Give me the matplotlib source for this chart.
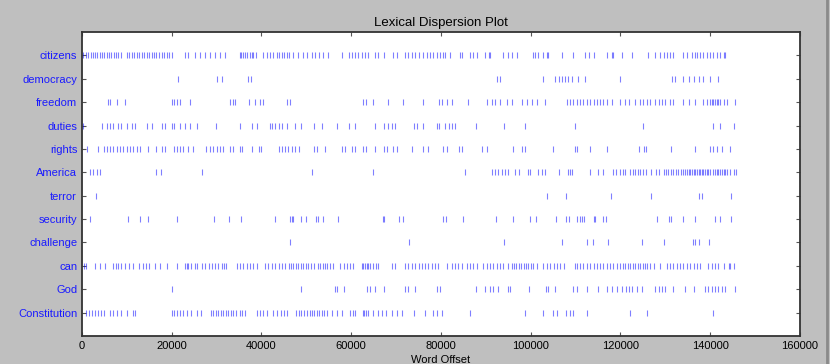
import matplotlib.pyplot as plt
import matplotlib.lines as mlines

# word offsets (approximate)
citizens = [300, 800, 1300, 1900, 2400, 2900, 3400, 3900, 4500, 5000, 5500, 6000, 6500, 7100, 7600, 8100, 8600,
            10000, 10500, 11100, 11600, 12200, 12700, 13300, 13800, 14400, 14900, 15500, 16000, 16600, 17200,
            17800, 18300, 18900, 19400, 20000, 23000, 23700, 25200, 26300, 27400, 28500, 29600, 30800, 31900,
            35100, 35400, 35800, 36300, 36700, 37400, 37800, 38200, 38800, 40400, 41200, 41900, 42600, 43400,
            43900, 44500, 45000, 45600, 46200, 47100, 48200, 49200, 50100, 51200, 51900, 52900, 53600, 54900,
            57900, 59400, 60100, 60900, 61600, 62300, 63100, 63800, 65300, 66000, 67200, 69400, 70100, 72000,
            72700, 73500, 74200, 75000, 76100, 76800, 77600, 78300, 79100, 79800, 80500, 80900, 82000, 84300,
            84600, 86500, 87200, 88000, 89800, 90600, 90900, 93900, 95000, 95800, 96900, 100600, 101000, 101700,
            102800, 103600, 103900, 106900, 109500, 112100, 112900, 114000, 117000, 118100, 118400, 120300,
            122500, 126200, 127700, 128800, 129600, 130300, 131100, 131800, 134000, 134800, 135900, 136600,
            137000, 137800, 138500, 139200, 140000, 140700, 141500, 142200, 143000, 143300]
democracy = [21300, 30000, 31100, 37100, 37600, 92400, 93200, 102700, 105400, 106200, 106900, 107700, 108400,
             109200, 110600, 112100, 119900, 131400, 132200, 134000, 135200, 136300, 137400, 138500, 140000, 141800]
freedom = [5700, 6200, 7700, 9600, 20000, 20600, 21100, 21800, 24100, 33000, 33600, 34100, 37300, 38600, 39700,
           40400, 45600, 46400, 62700, 63300, 64900, 68300, 71500, 76100, 79600, 80200, 81300, 82400, 86100,
           90200, 91300, 92100, 93200, 94700, 95800, 98000, 99100, 100200, 101300, 103200, 108000, 108800,
           109500, 110300, 111000, 111700, 112500, 113200, 114000, 114700, 115500, 116200, 117000, 118100,
           119900, 121000, 121800, 123300, 124400, 125100, 125900, 126600, 127700, 128500, 129200, 130000,
           131100, 131800, 134000, 135200, 136600, 138500, 139200, 140000, 140400, 140700, 141100, 141500,
           141800, 142200, 143000, 143700, 145500]
duties = [300, 4400, 5500, 6200, 7000, 8100, 8800, 10000, 11100, 11800, 14400, 15500, 17800, 18500, 20000,
          20600, 21800, 23000, 24100, 25600, 29900, 35200, 37800, 38900, 41900, 42300, 43000, 43800, 44500,
          45600, 47500, 48900, 51600, 53400, 56800, 59400, 60900, 65300, 67200, 68300, 69000, 69800, 73900,
          74600, 76100, 79100, 79600, 80900, 81700, 82400, 83100, 87800, 94100, 98700, 109900, 125000, 140700,
          142100, 145400]
rights = [1200, 3600, 4800, 5500, 6200, 7000, 7700, 8500, 9200, 10000, 10700, 11400, 12200, 12900, 14800,
          16600, 17800, 18500, 20400, 21100, 21800, 22600, 23700, 24800, 27600, 28500, 29300, 30000, 30800,
          31500, 33000, 33600, 35100, 35600, 37800, 39500, 40000, 43800, 44500, 45200, 46000, 46700, 47500,
          48400, 51600, 52300, 54200, 57900, 58600, 60100, 60900, 62700, 63300, 65300, 67200, 67900, 69400,
          70100, 73500, 76100, 77200, 80500, 81300, 84100, 84700, 89100, 90300, 96000, 98000, 98700, 104900,
          109900, 110400, 113100, 117100, 124200, 125300, 125700, 131200, 136600, 140000, 140700, 141500,
          142600, 144400]
america = [1800, 2400, 3300, 4000, 16500, 17500, 26700, 51200, 64800, 85400, 91300, 92100, 92800, 93500, 94300,
           95000, 96500, 97300, 99500, 99900, 101700, 102500, 103200, 106400, 108400, 108800, 109100, 113200,
           115100, 116200, 118400, 119000, 119900, 120500, 121000, 122200, 122700, 123300, 123800, 124400,
           125000, 125700, 126800, 127900, 128500, 129600, 130200, 130700, 131200, 131800, 132400, 132900,
           133400, 134000, 134400, 134800, 135200, 135500, 135900, 136300, 136600, 137000, 137400, 137800,
           138100, 138500, 138900, 139200, 139600, 140000, 140700, 141100, 141500, 141800, 142200, 142600,
           143000, 143300, 143700, 144400, 145200, 145800]
terror = [3100, 103600, 107900, 117800, 126800, 137400, 138100, 144700]
security = [1800, 10300, 12900, 14800, 21200, 29400, 32800, 35400, 43000, 46400, 46700, 47100, 48800, 49900,
            52200, 52500, 53600, 57100, 67000, 67300, 70700, 71500, 80500, 81100, 85000, 92300, 96000, 99900,
            101200, 105700, 107900, 108600, 110300, 111000, 111400, 111900, 114100, 114400, 116200, 116800,
            128100, 130900, 131200, 133900, 136600, 141100, 142200, 144600]
challenge = [46400, 72900, 94100, 106900, 112500, 113800, 117300, 124800, 129600, 136100, 136600, 137400, 139800]
can = [400, 900, 2900, 4000, 5100, 7000, 7600, 8100, 8800, 9600, 10500, 11400, 12800, 13500, 14300, 15000,
       16300, 17400, 19000, 21100, 23000, 23300, 23700, 24400, 25200, 25700, 26700, 27400, 28200, 28900, 29600,
       30400, 31100, 31600, 32100, 34500, 35200, 35900, 36700, 37400, 38200, 38900, 40800, 41500, 42300, 43000,
       43800, 44500, 45200, 46200, 46600, 47100, 47700, 48200, 48700, 49300, 49900, 50400, 51000, 51600, 52500,
       53000, 53600, 54200, 54700, 55300, 55900, 57500, 58300, 59000, 59700, 60500, 62300, 62700, 63100, 63500,
       63800, 64200, 64900, 65500, 65900, 69000, 69800, 72000, 72700, 73500, 74200, 75000, 75700, 76400, 77200,
       77900, 78700, 79400, 81300, 82400, 83100, 83900, 84600, 85700, 86500, 87200, 88000, 89300, 90200, 90900,
       91700, 92400, 93200, 93900, 95000, 95800, 96300, 96700, 97300, 97800, 98400, 99000, 99500, 100000,
       100600, 101300, 102800, 103600, 104300, 105100, 105800, 106500, 107400, 109900, 110400, 111000, 111600,
       112500, 113200, 114000, 114700, 115500, 116200, 117000, 117700, 118400, 119200, 119900, 120500, 121000,
       121600, 122200, 122700, 123300, 123800, 124400, 125000, 125500, 126000, 126600, 127400, 128800, 130300,
       131100, 131800, 132600, 133300, 134000, 134800, 135500, 136300, 137000, 137800, 139600, 140400, 141100,
       141800, 143000, 144100, 144400, 145200]
god = [20000, 48700, 56400, 56800, 58300, 63500, 64200, 65300, 67200, 72000, 72700, 74200, 79100, 79800, 87800,
       89800, 90900, 91700, 92600, 95000, 95300, 99700, 103400, 103900, 105400, 109400, 110300, 112500, 115100,
       117000, 118100, 119200, 120300, 121300, 121800, 122500, 123600, 124800, 127700, 128500, 129200, 130000,
       131800, 134400, 136300, 138900, 139600, 140400, 141100, 141800, 142600, 143300, 145500]
constitution = [1000, 1600, 2200, 2900, 3600, 4200, 4800, 6200, 7000, 7700, 8800, 10000, 11400, 11800, 20000,
                20600, 21100, 21800, 22600, 23300, 24400, 25600, 26500, 28700, 29300, 29900, 30400, 30900, 31500,
                32100, 32600, 33100, 33700, 34300, 35100, 35600, 36300, 38900, 39700, 40400, 41200, 42500, 43400,
                44300, 45000, 45600, 47800, 48400, 48900, 49500, 50100, 50700, 51200, 51700, 52300, 52900, 53400,
                53900, 54500, 55700, 56800, 57900, 59700, 60300, 60900, 62600, 62900, 63300, 63800, 64900, 66000,
                66800, 67800, 69000, 70100, 71300, 73900, 76400, 78300, 79100, 80200, 86500, 98700, 102700,
                105000, 105800, 107900, 108700, 109400, 112500, 122200, 126000, 140700]

words = ["citizens", "democracy", "freedom", "duties", "rights", "America",
         "terror", "security", "challenge", "can", "God", "Constitution"]
offsets = [citizens, democracy, freedom, duties, rights, america,
           terror, security, challenge, can, god, constitution]

plt.rcParams["font.family"] = ["Liberation Sans", "DejaVu Sans"]

fig = plt.figure(figsize=(8.3, 3.64), dpi=100, facecolor="#bfbfbf")
ax = fig.add_axes([0.0988, 0.077, 0.865, 0.835])

n = len(words)
for i, offs in enumerate(offsets):
    ax.plot(offs, [n - 1 - i] * len(offs), "|", color="blue", alpha=0.5,
            markersize=3.8, markeredgewidth=0.8)

ax.set_yticks(range(n))
ax.set_yticklabels(words[::-1], color="#1a1aff", fontsize=8)
ax.set_ylim(-1, n)
ax.set_xlim(0, 160000)
ax.set_xticks(range(0, 160001, 20000))
ax.tick_params(axis="x", labelsize=8)
ax.tick_params(direction="in", top=True, right=True, length=3, width=0.8, color="#555555")
for s in ax.spines.values():
    s.set_linewidth(1.3)
    s.set_color("#333333")

ax.set_title("Lexical Dispersion Plot", fontsize=9.5, pad=4)
ax.set_xlabel("Word Offset", fontsize=8, labelpad=3)

fig.add_artist(mlines.Line2D([0.996, 0.996], [0, 1], color="#8a8a8a", lw=2))

plt.savefig("out.png", dpi=100, facecolor=fig.get_facecolor())
